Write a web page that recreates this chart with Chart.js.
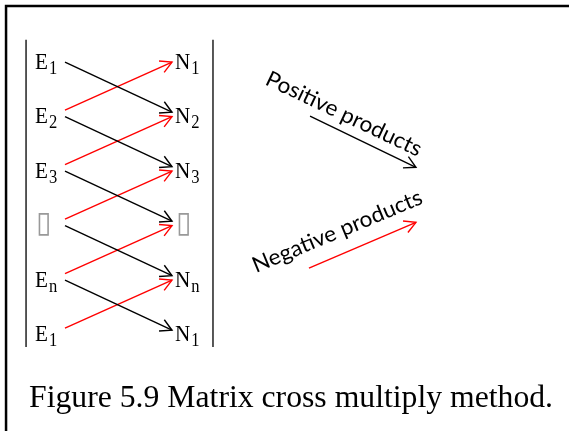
<!DOCTYPE html>
<html>
<head>
<meta charset="utf-8">
<script src="https://cdn.jsdelivr.net/npm/chart.js@4"></script>
<style>
    html, body { margin: 0; padding: 0; background: #fff; }
    canvas { display: block; }
</style>
</head>
<body>
<canvas id="diagrama" width="569" height="431"></canvas>
<script>
// linhas do determinante (esquerda = E, direita = N)
const leftLabels = ['E', 'E', 'E', '\u25AF', 'E', 'E'];
const leftSubs = ['1', '2', '3', '', 'n', '1'];
const rightLabels = ['N', 'N', 'N', '\u25AF', 'N', 'N'];
const rightSubs = ['1', '2', '3', '', 'n', '1'];

// [linha da esquerda, linha da direita]
const positivePairs = [[0, 1], [1, 2], [2, 3], [3, 4], [4, 5]];
const negativePairs = [[1, 0], [2, 1], [3, 2], [4, 3], [5, 4]];

const legendLabels = ['Positive products', 'Negative products'];
const caption = 'Figure 5.9 Matrix cross multiply method.';

const BLACK = '#000000';
const RED = '#ff0000';
const SERIF = '"Liberation Serif", "Times New Roman", serif';
const SANS = 'Lato, "Open Sans", sans-serif';
const SQUEEZE = 0.92; // a figura original esta um pouco comprimida na horizontal

// colunas: 0 = cauda das setas, 1 = ponta das setas; linhas: indice da linha
const legendArrows = [
    { from: { x: 2.29, y: 1.01 }, to: { x: 3.28, y: 1.95 }, color: BLACK },
    { from: { x: 2.28, y: 3.80 }, to: { x: 3.28, y: 2.96 }, color: RED }
];

function arrowDataset(from, to, color) {
    return {
        data: [from, to],
        showLine: true,
        borderColor: color,
        backgroundColor: color,
        borderWidth: 1.4,
        pointRadius: 0,
        arrow: true
    };
}

const datasets = [];

// barras verticais do determinante
[-0.364, 1.383].forEach(x => {
    datasets.push({
        data: [{ x, y: -0.39 }, { x, y: 5.25 }],
        showLine: true,
        borderColor: '#222',
        borderWidth: 1.5,
        pointRadius: 0
    });
});

positivePairs.forEach(([l, r]) => {
    datasets.push(arrowDataset({ x: 0, y: l + 0.02 }, { x: 1, y: r - 0.06 }, BLACK));
});
negativePairs.forEach(([l, r]) => {
    datasets.push(arrowDataset({ x: 0, y: l - 0.1 }, { x: 1, y: r + 0.02 }, RED));
});
legendArrows.forEach(a => datasets.push(arrowDataset(a.from, a.to, a.color)));

// escreve o texto com altura fixa e largura ajustada ao alvo
function fitText(ctx, text, font, x, y, width) {
    ctx.font = font;
    const sx = width / ctx.measureText(text).width;
    ctx.save();
    ctx.translate(x, y);
    ctx.scale(sx, 1);
    ctx.fillText(text, 0, 0);
    ctx.restore();
}

const arrowHeads = {
    id: 'arrowHeads',
    afterDatasetsDraw(chart) {
        const ctx = chart.ctx;
        chart.data.datasets.forEach((ds, i) => {
            if (!ds.arrow) return;
            const pts = chart.getDatasetMeta(i).data;
            const a = pts[0], b = pts[1];
            const ang = Math.atan2(b.y - a.y, b.x - a.x);
            const len = 13, spread = 0.5;
            ctx.save();
            ctx.strokeStyle = ds.borderColor;
            ctx.lineWidth = 1.4;
            ctx.beginPath();
            ctx.moveTo(b.x - len * Math.cos(ang - spread), b.y - len * Math.sin(ang - spread));
            ctx.lineTo(b.x, b.y);
            ctx.lineTo(b.x - len * Math.cos(ang + spread), b.y - len * Math.sin(ang + spread));
            ctx.stroke();
            ctx.restore();
        });
    }
};

const labelsPlugin = {
    id: 'labelsPlugin',
    beforeDraw(chart) {
        const ctx = chart.ctx;
        const sx = chart.scales.x, sy = chart.scales.y;
        // moldura
        const fx = sx.getPixelForValue(-0.551), fy = sy.getPixelForValue(-1.009);
        ctx.save();
        ctx.strokeStyle = '#000';
        ctx.lineWidth = 2.5;
        ctx.beginPath();
        ctx.moveTo(fx, chart.height);
        ctx.lineTo(fx, fy);
        ctx.lineTo(chart.width + 5, fy);
        ctx.stroke();
        ctx.restore();
    },
    afterDraw(chart) {
        const ctx = chart.ctx;
        const sx = chart.scales.x, sy = chart.scales.y;
        ctx.save();
        ctx.textBaseline = 'alphabetic';
        ctx.textAlign = 'left';

        function drawLabel(text, sub, col, row) {
            const x = sx.getPixelForValue(col);
            const y = sy.getPixelForValue(row) + 8;
            ctx.save();
            ctx.translate(x, y);
            ctx.scale(SQUEEZE, 1);
            if (text === '\u25AF') {
                ctx.fillStyle = '#999';
                ctx.font = '30px "DejaVu Sans"';
                ctx.fillText(text, 1, 0);
                ctx.restore();
                return;
            }
            ctx.fillStyle = '#000';
            ctx.font = '23px ' + SERIF;
            ctx.fillText(text, 0, 0);
            const w = ctx.measureText(text).width;
            ctx.font = '18px ' + SERIF;
            ctx.fillText(sub, w + 1, 5);
            ctx.restore();
        }

        leftLabels.forEach((t, i) => drawLabel(t, leftSubs[i], -0.28, i));
        rightLabels.forEach((t, i) => drawLabel(t, rightSubs[i], 1.028, i));

        // legendas inclinadas
        const legendPos = [
            { x: 1.86, y: 0.42, angle: 25.4, width: 170 },
            { x: 1.785, y: 3.89, angle: -22.6, width: 182 }
        ];
        legendLabels.forEach((t, i) => {
            const p = legendPos[i];
            ctx.save();
            ctx.translate(sx.getPixelForValue(p.x), sy.getPixelForValue(p.y));
            ctx.rotate(p.angle * Math.PI / 180);
            ctx.fillStyle = '#000';
            fitText(ctx, t, '22px ' + SANS, 0, 0, p.width);
            ctx.restore();
        });

        ctx.fillStyle = '#000';
        fitText(ctx, caption, '32px ' + SERIF, sx.getPixelForValue(-0.336), sy.getPixelForValue(6.349), 524);
        ctx.restore();
    }
};

new Chart(document.getElementById('diagrama').getContext('2d'), {
    type: 'scatter',
    data: { datasets },
    options: {
        responsive: false,
        animation: false,
        devicePixelRatio: 1,
        layout: { padding: 0 },
        plugins: {
            legend: { display: false },
            tooltip: { enabled: false }
        },
        scales: {
            x: { display: false, min: -0.6075, max: 4.7103 },
            y: { display: false, reverse: true, min: -1.119, max: 6.789 }
        }
    },
    plugins: [labelsPlugin, arrowHeads]
});
</script>
</body>
</html>
